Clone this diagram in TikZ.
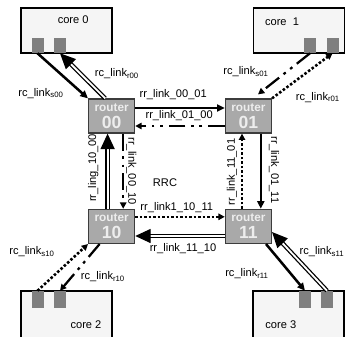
\documentclass[tikz,border=0pt]{standalone}
\usepackage{fontspec}
\setmainfont{Liberation Sans}
\usetikzlibrary{arrows.meta,calc}
\definecolor{ink}{HTML}{000000}
\definecolor{corefill}{HTML}{F5F5F5}
\definecolor{portfill}{HTML}{7F7F7F}
\definecolor{routerfill}{HTML}{A9A9A9}
\definecolor{routerline}{HTML}{3C3C3C}
\definecolor{routertext}{HTML}{EDEDED}
\newcommand{\eight}{\fontsize{7.9}{9}\selectfont}
\newcommand{\rname}{\fontsize{8.4}{10}\selectfont\bfseries}
\newcommand{\rnum}{\fontsize{12.5}{13}\selectfont\bfseries}
\tikzset{
 every node/.append style={font=\eight,text=ink},
 core/.style={draw=ink,fill=corefill,line width=.8pt,minimum width=2.275cm,minimum height=1.125cm,inner sep=0pt},
 port/.style={fill=portfill,minimum width=.3cm,minimum height=.375cm,inner sep=0pt},
 router/.style={draw=routerline,fill=routerfill,line width=.9pt,minimum width=1.15cm,minimum height=.85cm,inner sep=0pt,align=center,text=routertext,font=\rname},
 word/.style={inner sep=1pt},
 solidlink/.style={-{Triangle[length=5.5pt,width=5pt]},draw=ink,line width=1.8pt},
 dotlink/.style={-{Triangle[length=4.5pt,width=4.5pt]},draw=ink,line width=1.8pt,dash pattern=on 1.8pt off 1.4pt},
 dashdot/.style={-{Triangle[length=4.5pt,width=4.5pt]},draw=ink,line width=1.6pt,dash pattern=on 12pt off 4pt on 2pt off 4pt on 2pt off 4pt},
 dbl/.style={-{Triangle[length=11pt,width=10pt]},draw=ink,double=white,line width=.9pt,double distance=1.3pt},
}

\begin{document}
\begin{tikzpicture}

\useasboundingbox (0,0) rectangle (8.7,-8.4);
\node[core] (core0) at (1.6625,-.7625) {};
\node[core] (core1) at (7.475,-.7625) {};
\node[core,minimum height=1.35cm] (core2) at (1.6625,-7.95) {};
\node[core,minimum height=1.35cm] (core3) at (7.4625,-7.95) {};
\node[word] (t0) at (1.83,-.5) {core 0};
\node[word] (t1) at (7.05,-.55) {core~~1};
\node[word] (t2) at (2.15,-8.125) {core 2};
\node[word] (t3) at (7.02,-8.125) {core 3};
\node[port] (p0a) at (.9375,-1.1375) {};
\node[port] (p0b) at (1.5,-1.1375) {};
\node[port] (p1a) at (7.75,-1.1375) {};
\node[port] (p1b) at (8.3125,-1.1375) {};
\node[port,minimum height=.425cm] (p2a) at (.9375,-7.4875) {};
\node[port,minimum height=.425cm] (p2b) at (1.5,-7.4875) {};
\node[port,minimum height=.425cm] (p3a) at (7.625,-7.4875) {};
\node[port,minimum height=.425cm] (p3b) at (8.175,-7.4875) {};
\node[router] (r00) at (2.79,-2.9) {router\\[2pt]{\rnum 00}};
\node[router] (r01) at (6.21,-2.9) {router\\[2pt]{\rnum 01}};
\node[router] (r10) at (2.79,-5.66) {router\\[2pt]{\rnum 10}};
\node[router] (r11) at (6.21,-5.66) {router\\[2pt]{\rnum 11}};
\draw[solidlink] ([yshift=2mm]r00.east) -- ([yshift=2mm]r01.west);
\draw[dashdot] ([yshift=-2.5mm]r01.west) -- ([yshift=-2.5mm]r00.east);
\draw[dotlink] ([yshift=2.4mm]r10.east) -- ([yshift=2.4mm]r11.west);
\draw[dbl] ([yshift=-2.4mm]r11.west) -- ([yshift=-2.4mm]r10.east);
\draw[dbl] ([xshift=-1mm]r10.north) -- ([xshift=-1mm]r00.south);
\draw[dashdot] ([xshift=2.9mm]r00.south) -- ([xshift=2.9mm]r10.north);
\draw[solidlink] ([xshift=3.1mm]r01.south) -- ([xshift=3.1mm]r11.north);
\draw[dotlink] ([xshift=-1.6mm]r11.north) -- ([xshift=-1.6mm]r01.south);
\draw[solidlink] (p0a.south) -- (r00.north west);
\draw[dbl] ([xshift=-1.6mm]r00.north) -- (p0b.south);
\draw[dashdot] (p1a.south) -- ([xshift=2.4mm,yshift=1mm]r01.north);
\draw[dotlink] (r01.north east) -- (p1b.south);
\draw[dotlink] (p2a.north) -- (r10.south west);
\draw[dashdot] ([xshift=-3mm]r10.south) -- (p2b.north);
\draw[solidlink] ([xshift=-1.5mm]r11.south east) -- (p3a.north);
\draw[dbl] (p3b.north) -- ([yshift=-1.4mm]r11.east);
\node[word] (l0001) at (4.33,-2.375) {rr\_link\_00\_01};
\node[word] (l0100) at (4.48,-2.9) {rr\_link\_01\_00};
\node[word] (l1011) at (4.42,-5.18) {rr\_link1\_10\_11};
\node[word] (l1110) at (4.575,-6.225) {rr\_link\_11\_10};
\node[word,rotate=90] (l1000) at (2.33,-4.2) {rr\_ling\_10\_00};
\node[word,rotate=-90] (l0010) at (3.28,-4.28) {rr\_link\_00\_10};
\node[word,rotate=90] (l1101) at (5.8,-4.3) {rr\_link\_11\_01};
\node[word,rotate=-90] (l0111) at (6.85,-4.25) {rr\_link\_01\_11};
\node[word] (rrc) at (4.125,-4.575) {RRC};
\node[word] (ls00) at (1.025,-2.33) {rc\_link\textsubscript{s00}};
\node[word] (lr00) at (2.925,-1.85) {rc\_link\textsubscript{r00}};
\node[word] (ls01) at (6.15,-1.8) {rc\_link\textsubscript{s01}};
\node[word] (lr01) at (7.95,-2.43) {rc\_link\textsubscript{r01}};
\node[word] (ls10) at (.8,-6.3) {rc\_link\textsubscript{s10}};
\node[word] (lr10) at (2.575,-6.925) {rc\_link\textsubscript{r10}};
\node[word] (lr11) at (6.175,-6.85) {rc\_link\textsubscript{r11}};
\node[word] (ls11) at (8.05,-6.3) {rc\_link\textsubscript{s11}};

\end{tikzpicture}
\end{document}
